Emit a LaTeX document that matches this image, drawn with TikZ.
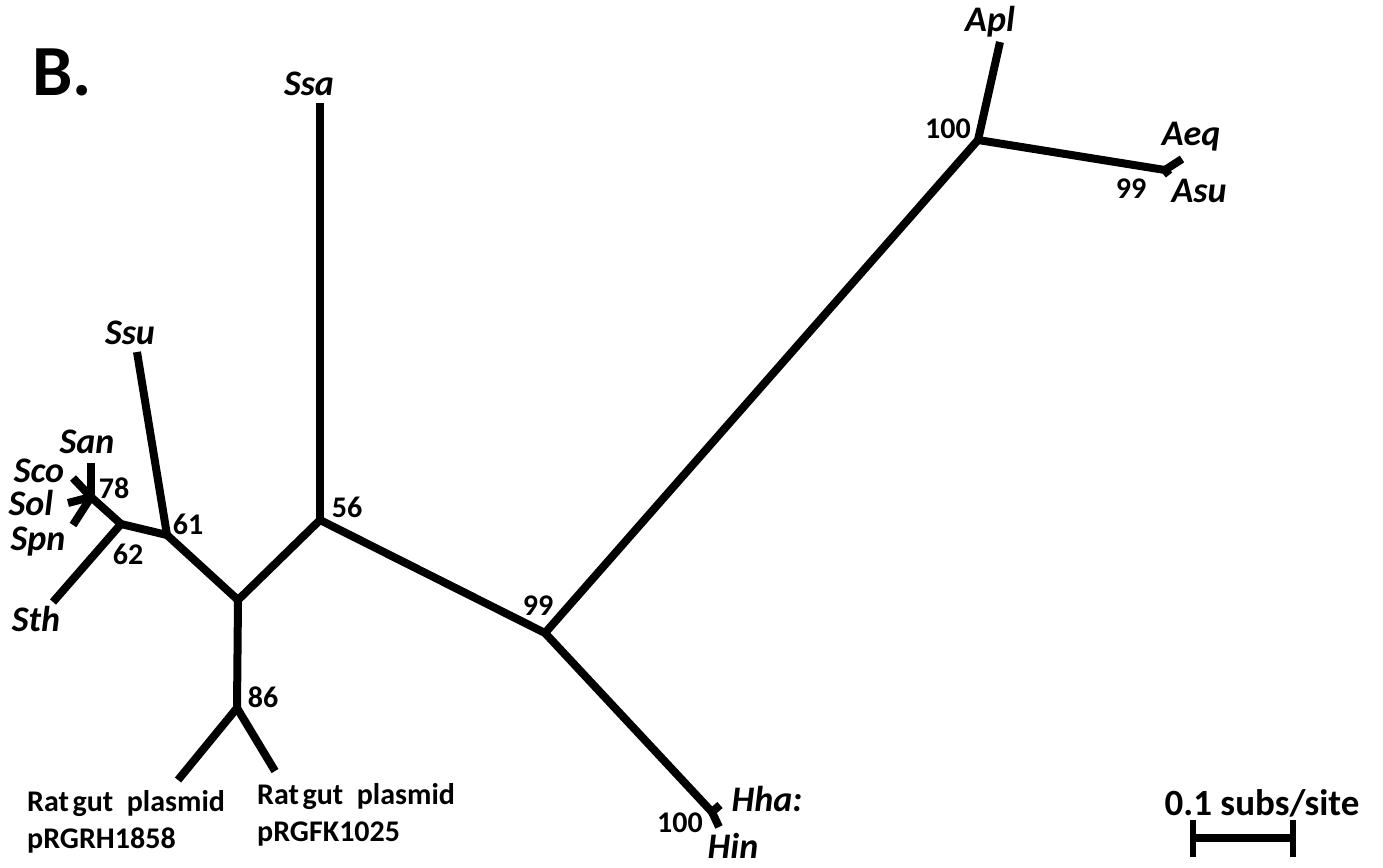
\documentclass[tikz,border=0pt]{standalone}
\usepackage{fontspec}
\setmainfont{Carlito}
\begin{document}
\begin{tikzpicture}[x=1pt,y=-1pt,
  br/.style={line width=8pt,line join=round},
  sp/.style={font=\fontsize{36}{40}\selectfont\bfseries\itshape,inner sep=0pt},
  bs/.style={font=\fontsize{30}{34}\selectfont\bfseries,inner sep=0pt},
  pl/.style={font=\fontsize{30}{37}\selectfont\bfseries,inner sep=0pt,align=left}]
\useasboundingbox (0,0) rectangle (1383,867);
% internal nodes
\coordinate (n56) at (320,520);
\coordinate (n99) at (545,633);
\coordinate (n100) at (978,140);
\coordinate (nA) at (1165,170);
\coordinate (nH) at (712,812);
\coordinate (nL) at (238,600);
\coordinate (n86) at (237,708);
\coordinate (n61) at (167,535);
\coordinate (n62) at (121,524);
\coordinate (n78) at (91,497);
% tips
\coordinate (tSsa) at (320,103);
\coordinate (tApl) at (1000,42);
\coordinate (tAeq) at (1182,159);
\coordinate (tAsu) at (1169,175);
\coordinate (tHha) at (720,805);
\coordinate (tHin) at (719,827);
\coordinate (tR1) at (178,780);
\coordinate (tR2) at (275,771);
\coordinate (tSsu) at (137,352);
\coordinate (tSth) at (53,602);
\coordinate (tSan) at (91,463);
\coordinate (tSco) at (73,478);
\coordinate (tSol) at (68,503);
\coordinate (tSpn) at (73,525);
% branches
\draw[br] (n56) -- (tSsa);
\draw[br] (n56) -- (n99);
\draw[br] (n99) -- (n100);
\draw[br] (n100) -- (tApl);
\draw[br] (n100) -- (nA);
\draw[br] (nA) -- (tAeq);
\draw[br] (nA) -- (tAsu);
\draw[br] (n99) -- (nH);
\draw[br] (nH) -- (tHha);
\draw[br] (nH) -- (tHin);
\draw[br] (n56) -- (nL);
\draw[br] (nL) -- (n86);
\draw[br] (n86) -- (tR1);
\draw[br] (n86) -- (tR2);
\draw[br] (nL) -- (n61);
\draw[br] (n61) -- (tSsu);
\draw[br] (n61) -- (n62);
\draw[br] (n62) -- (tSth);
\draw[br] (n62) -- (n78);
\draw[br] (n78) -- (tSan);
\draw[br] (n78) -- (tSco);
\draw[br] (n78) -- (tSol);
\draw[br] (n78) -- (tSpn);
% panel label
\node[font=\fontsize{72}{76}\selectfont\bfseries,inner sep=0pt] (lB) at (62,72) {B.};
% species labels
\node[sp] (lSsa) at (309,84) {Ssa};
\node[sp] (lApl) at (990,22) {Apl};
\node[sp] (lAeq) at (1191,137) {Aeq};
\node[sp] (lAsu) at (1199,191) {Asu};
\node[sp] (lHha) at (767,799) {Hha:};
\node[sp] (lHin) at (733,846) {Hin};
\node[sp] (lSsu) at (130,333) {Ssu};
\node[sp] (lSan) at (87,442) {San};
\node[sp] (lSco) at (39,471) {Sco};
\node[sp] (lSol) at (31,503) {Sol};
\node[sp] (lSpn) at (38,542) {Spn};
\node[sp] (lSth) at (36,619) {Sth};
\node[pl,anchor=north west] (lR1) at (27,790) {Rat\hspace{0.12em}gut\hspace{0.45em}plasmid\\pRGRH1858};
\node[pl,anchor=north west] (lR2) at (257,783) {Rat\hspace{0.12em}gut\hspace{0.45em}plasmid\\pRGFK1025};
% bootstrap values
\node[bs] (b56) at (347,507) {56};
\node[bs] (b99a) at (538,606) {99};
\node[bs] (b100a) at (948,129) {100};
\node[bs] (b99b) at (1131,189) {99};
\node[bs] (b100b) at (680,823) {100};
\node[bs] (b86) at (263,697) {86};
\node[bs] (b61) at (188,524) {61};
\node[bs] (b62) at (128,554) {62};
\node[bs] (b78) at (114,488) {78};
% scale bar
\coordinate (sL) at (1193,838);
\coordinate (sR) at (1293,838);
\coordinate (sLt) at (1193,820);
\coordinate (sLb) at (1193,857);
\coordinate (sRt) at (1293,820);
\coordinate (sRb) at (1293,857);
\draw[line width=8pt] (sL) -- (sR);
\draw[line width=6pt] (sLt) -- (sLb);
\draw[line width=6pt] (sRt) -- (sRb);
\node[font=\fontsize{37}{40}\selectfont\bfseries,inner sep=0pt] (lScale) at (1262,803) {0.1 subs/site};
\end{tikzpicture}
\end{document}
